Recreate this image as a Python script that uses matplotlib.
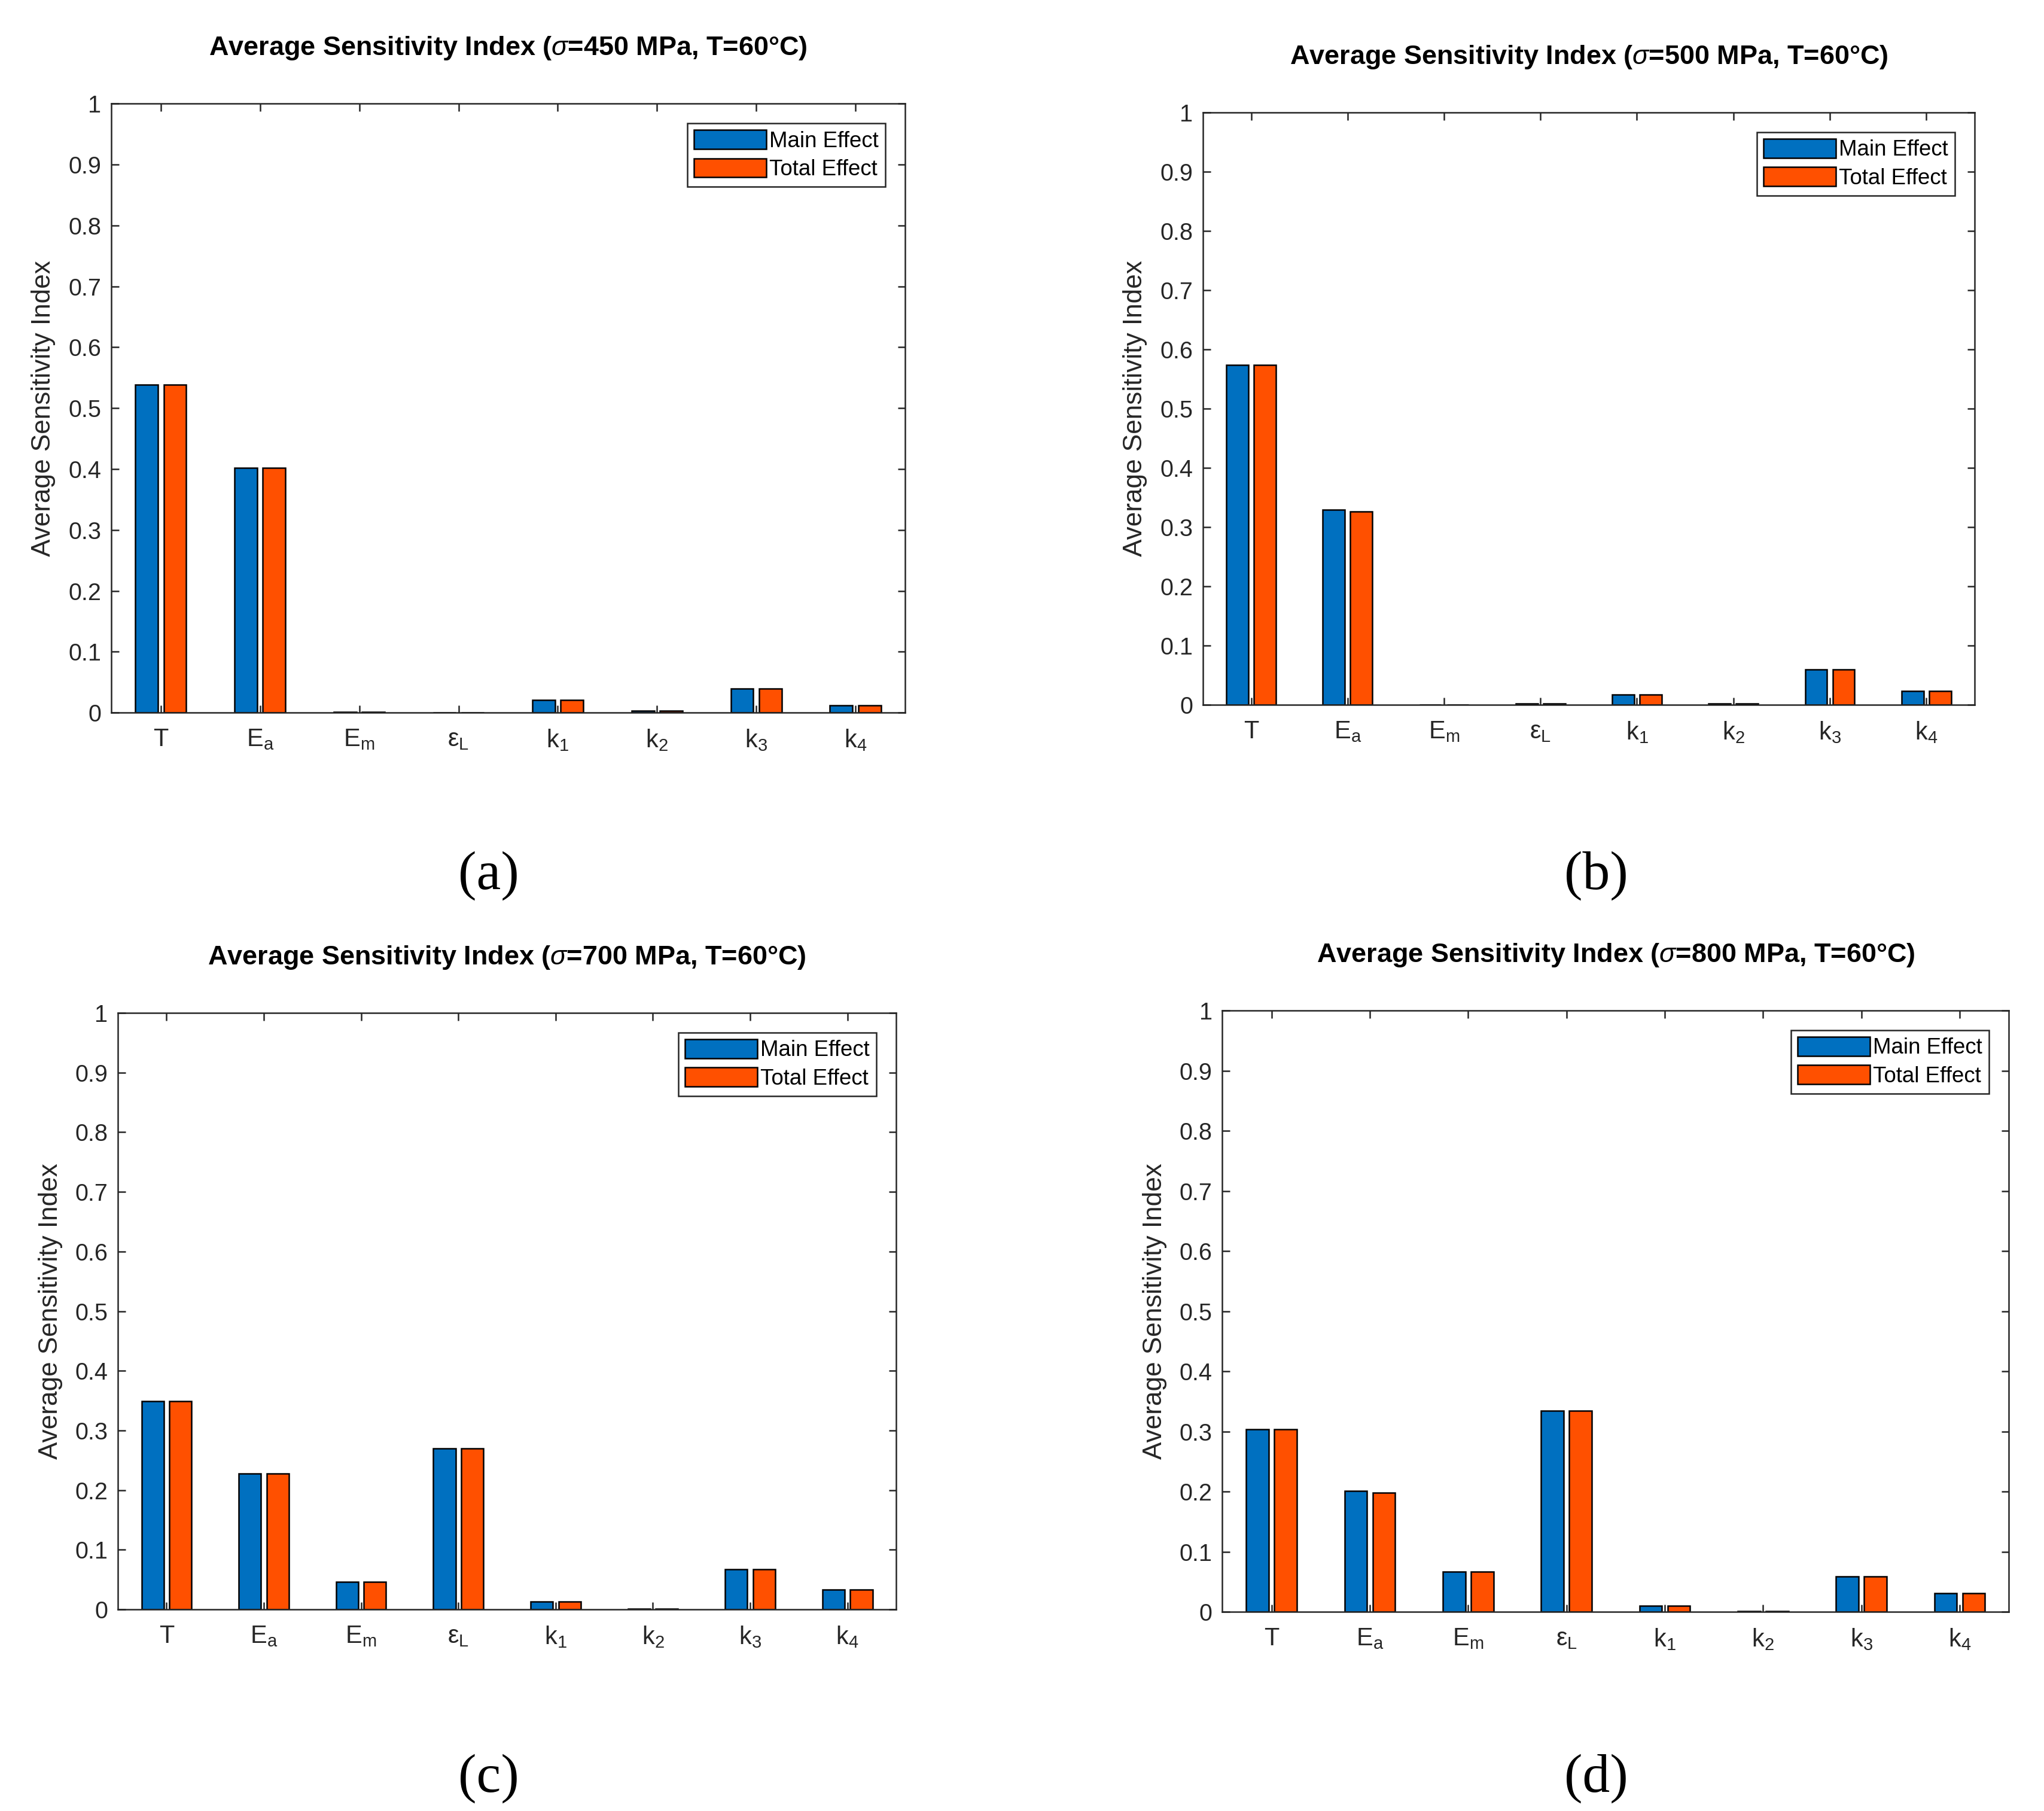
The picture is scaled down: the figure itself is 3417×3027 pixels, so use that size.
import matplotlib
matplotlib.use("Agg")
import matplotlib.pyplot as plt
import numpy as np
from matplotlib.ticker import FuncFormatter

plt.rcParams['font.family'] = ['Liberation Sans', 'DejaVu Sans']
plt.rcParams['mathtext.fontset'] = 'custom'
plt.rcParams['mathtext.rm'] = 'Liberation Sans'
plt.rcParams['mathtext.it'] = 'Liberation Sans:italic'
plt.rcParams['mathtext.bf'] = 'Liberation Sans:bold'
plt.rcParams['mathtext.default'] = 'regular'
plt.rcParams['mathtext.fallback'] = 'stixsans'

categories = ['T', r'$E_a$', r'$E_m$', r'$\varepsilon_L$', r'$k_1$', r'$k_2$', r'$k_3$', r'$k_4$']
sigmas = [450, 500, 700, 800]
panel_labels = ['(a)', '(b)', '(c)', '(d)']

main_450 = [0.538, 0.402, 0.001, 0.0005, 0.021, 0.003, 0.039, 0.012]
total_450 = [0.538, 0.402, 0.001, 0.0005, 0.021, 0.003, 0.039, 0.012]
main_500 = [0.574, 0.329, 0.0005, 0.002, 0.0175, 0.002, 0.0595, 0.0235]
total_500 = [0.574, 0.326, 0.0005, 0.002, 0.0175, 0.002, 0.0595, 0.0235]
main_700 = [0.349, 0.228, 0.046, 0.270, 0.0128, 0.001, 0.0668, 0.0334]
total_700 = [0.349, 0.228, 0.046, 0.270, 0.0128, 0.001, 0.0668, 0.0334]
main_800 = [0.304, 0.2006, 0.067, 0.334, 0.0097, 0.001, 0.0584, 0.031]
total_800 = [0.304, 0.1977, 0.067, 0.334, 0.0097, 0.001, 0.0584, 0.031]

mains = [main_450, main_500, main_700, main_800]
totals = [total_450, total_500, total_700, total_800]

blue = '#0070C0'
orange = '#FF5000'
axcol = '#262626'

fig = plt.figure(figsize=(3417/300, 3027/300), dpi=300)

rects = [
    [0.0544, 0.6065, 0.4428-0.0544, 0.9428-0.6065],
    [0.5885, 0.6108, 0.9660-0.5885, 0.9379-0.6108],
    [0.0577, 0.1113, 0.4384-0.0577, 0.4407-0.1113],
    [0.5980, 0.1100, 0.9828-0.5980, 0.4420-0.1100],
]
label_pos = [(0.239, 0.5166), (0.781, 0.5166), (0.239, 0.018), (0.781, 0.018)]

x = np.arange(1, len(categories)+1)
off = 0.1428
w = 0.2286


def yfmt(v, p):
    if abs(v) < 1e-9:
        return '0'
    if abs(v - 1) < 1e-9:
        return '1'
    return '%.1f' % v


for i in range(4):
    ax = fig.add_axes(rects[i])
    ax.bar(x - off, mains[i], w, color=blue, edgecolor='black', linewidth=0.6, label='Main Effect')
    ax.bar(x + off, totals[i], w, color=orange, edgecolor='black', linewidth=0.6, label='Total Effect')
    ax.set_xlim(0.5, 8.5)
    ax.set_ylim(0, 1)
    ax.set_xticks(x)
    ax.set_xticklabels(categories)
    ax.set_yticks(np.arange(0, 1.01, 0.1))
    ax.yaxis.set_major_formatter(FuncFormatter(yfmt))
    ax.tick_params(direction='in', top=True, right=True, length=3, width=0.6,
                   labelsize=9.5, colors=axcol, labelcolor=axcol, pad=4)
    ax.tick_params(axis='x', pad=6, labelsize=10)
    for s in ax.spines.values():
        s.set_linewidth(0.6)
        s.set_color(axcol)
    ax.set_ylabel('Average Sensitivity Index', fontsize=10.6, color=axcol, labelpad=5)
    ax.set_title(r'Average Sensitivity Index ($\it{\sigma}$=%d MPa, T=60°C)' % sigmas[i],
                 fontsize=10.8, fontweight='bold', pad=19.5)
    leg = ax.legend(loc='upper right', fontsize=8.8, handlelength=3.3, handleheight=0.95,
                    labelspacing=0.3, borderpad=0.3, handletextpad=0.15,
                    borderaxespad=0.9, fancybox=False, framealpha=1)
    leg.get_frame().set_edgecolor(axcol)
    leg.get_frame().set_linewidth(0.6)
    fig.text(label_pos[i][0], label_pos[i][1], panel_labels[i], fontsize=22,
             family=['Liberation Serif', 'DejaVu Serif'], ha='center', va='center')

fig.savefig('out.png', dpi=300, facecolor='white')
